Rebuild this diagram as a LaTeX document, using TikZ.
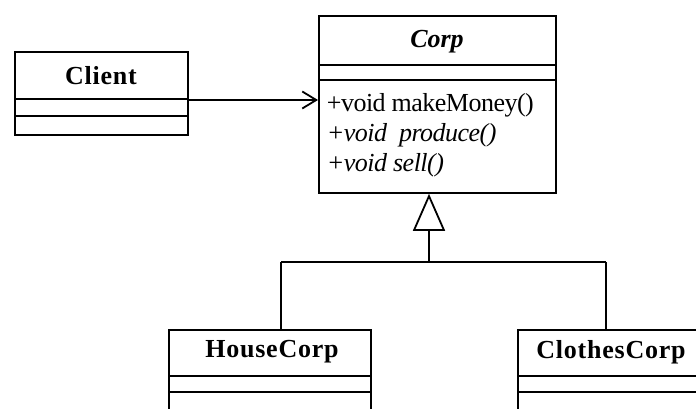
\documentclass[tikz,border=0pt]{standalone}
\usepackage{fontspec}
\setmainfont{Liberation Serif}
\usetikzlibrary{arrows.meta,calc}
\begin{document}
\begin{tikzpicture}[x=1pt,y=-1pt,line width=1.8pt,
  cls/.style={draw,rectangle,inner sep=0pt,anchor=north west},
  clsname/.style={font=\fontsize{26}{30}\selectfont\bfseries\addfontfeature{LetterSpace=3}},
  method/.style={anchor=west,inner sep=0pt,font=\fontsize{26}{30}\selectfont\addfontfeature{LetterSpace=-2}},
  assoc/.style={-{Straight Barb[length=14pt,width=17pt,line width=1.8pt]}},
  gen/.style={-{Triangle[open,length=37pt,width=32pt,line width=1.8pt]}}]
\useasboundingbox (0,0) rectangle (696,409);
\clip (0,0) rectangle (696,409);
% Client
\node[cls,minimum width=173pt,minimum height=83pt] (client) at (14,51) {};
\draw ($(client.north west)+(0,48)$) -- ($(client.north east)+(0,48)$);
\draw ($(client.north west)+(0,65)$) -- ($(client.north east)+(0,65)$);
\node[clsname] (clientname) at (101,76) {Client};
% Corp
\node[cls,minimum width=237pt,minimum height=177pt] (corp) at (318,15) {};
\draw ($(corp.north west)+(0,50)$) -- ($(corp.north east)+(0,50)$);
\draw ($(corp.north west)+(0,65)$) -- ($(corp.north east)+(0,65)$);
\node[clsname,font=\fontsize{26}{30}\selectfont\bfseries\itshape] (corpname) at (437,42) {Corp};
\node[method] (m1) at (326,105) {+void makeMoney()};
\node[method] (m2) at (326,135) {\itshape +void\ \ produce()};
\node[method] (m3) at (326,165) {\itshape +void sell()};
% HouseCorp
\node[cls,minimum width=202pt,minimum height=101pt] (house) at (168,329) {};
\draw ($(house.north west)+(0,47)$) -- ($(house.north east)+(0,47)$);
\draw ($(house.north west)+(0,63)$) -- ($(house.north east)+(0,63)$);
\node[clsname] (housename) at (272,352) {HouseCorp};
% ClothesCorp
\node[cls,minimum width=193pt,minimum height=101pt] (clothes) at (517,329) {};
\draw ($(clothes.north west)+(0,47)$) -- ($(clothes.north east)+(0,47)$);
\draw ($(clothes.north west)+(0,63)$) -- ($(clothes.north east)+(0,63)$);
\node[clsname] (clothesname) at (611,352) {ClothesCorp};
% connectors
\coordinate (a1) at ($(client.north east)+(0,49)$);
\coordinate (a2) at (corp.west |- a1);
\draw[assoc] (a1) -- (a2);
\coordinate (junc) at (429,262);
\coordinate (hj) at (281,262);
\coordinate (cj) at (606,262);
\draw[gen] (junc) -- (junc |- corp.south);
\draw (hj) -- (cj);
\draw (hj) -- (hj |- house.north);
\draw (cj) -- (cj |- clothes.north);
\end{tikzpicture}
\end{document}
